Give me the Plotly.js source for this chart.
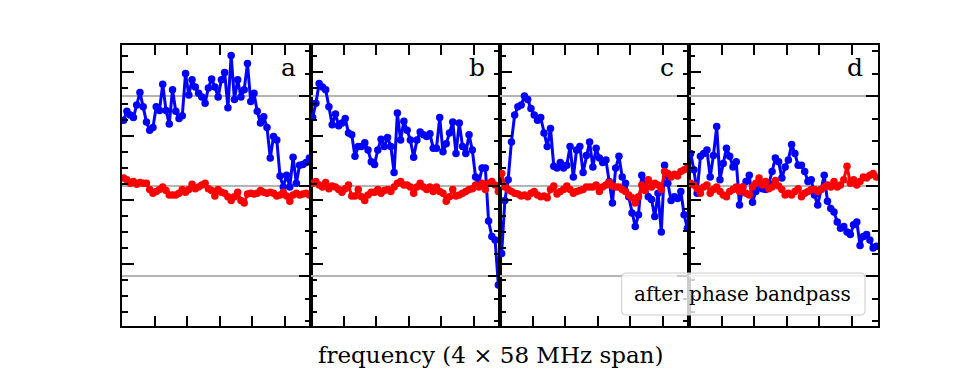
<!DOCTYPE html>
<html>
<head>
<meta charset="utf-8">
<script src="https://cdn.plot.ly/plotly-3.0.1.min.js"></script>
<style>html,body{margin:0;padding:0;background:#fff}</style>
</head>
<body>
<div id="chart" style="width:975px;height:375px"></div>
<script>
// Four 58 MHz sub-bands, one channel per MHz.
const panelLabels = ['a', 'b', 'c', 'd'];
const bandSpanMHz = 58;

// Blue: phase before the bandpass; red: after phase bandpass.
const blueA = [0.73,0.83,0.79,0.76,0.90,1.04,0.88,0.71,0.62,0.65,
  0.88,0.84,1.13,0.84,0.69,1.07,0.83,0.75,0.78,1.25,
  1.01,1.18,1.10,1.03,0.99,0.92,1.09,1.19,1.10,0.99,
  1.18,1.26,0.87,1.45,0.96,1.18,0.99,1.07,1.36,0.94,
  1.03,0.83,0.70,0.77,0.65,0.31,0.55,0.51,0.11,-0.01,
  0.12,-0.01,0.32,0.03,0.23,0.24,0.26,0.31];
const redA = [0.09,0.07,0.03,0.05,0.02,0.04,0.03,0.03,-0.04,-0.08,
  -0.06,-0.04,-0.01,-0.05,-0.10,-0.10,-0.10,-0.08,-0.04,-0.07,
  -0.04,0.02,-0.03,-0.01,0.01,0.03,-0.03,-0.05,-0.11,-0.04,
  -0.07,-0.08,-0.12,-0.16,-0.12,-0.07,-0.16,-0.19,-0.09,-0.08,
  -0.09,-0.08,-0.05,-0.07,-0.08,-0.07,-0.08,-0.11,-0.10,-0.07,
  -0.11,-0.17,-0.10,-0.08,-0.10,-0.09,-0.08,-0.10];

const blueB = [0.76,0.92,1.14,1.10,1.07,0.88,0.68,0.80,0.67,0.70,
  0.75,0.59,0.57,0.33,0.44,0.44,0.48,0.40,0.27,0.24,
  0.40,0.52,0.44,0.54,0.44,0.15,0.81,0.51,0.72,0.62,
  0.51,0.32,0.51,0.60,0.57,0.55,0.58,0.42,0.42,0.76,
  0.38,0.47,0.59,0.71,0.36,0.70,0.44,0.36,0.57,0.40,
  0.10,0.03,0.20,0.20,-0.39,-0.56,-0.60,-1.10];
const redB = [0.03,0.05,0.01,-0.01,0.04,-0.03,0.00,-0.01,-0.04,-0.07,
  -0.03,0.01,-0.11,-0.11,-0.04,-0.12,-0.16,-0.10,-0.07,-0.07,
  -0.04,-0.08,-0.05,-0.04,-0.06,-0.01,0.03,0.05,0.01,0.01,
  -0.01,-0.08,-0.01,0.03,-0.01,-0.04,-0.01,-0.06,-0.01,-0.06,
  -0.08,-0.17,-0.12,-0.04,-0.11,-0.10,-0.08,-0.06,-0.04,-0.03,
  0.01,-0.01,0.03,-0.04,0.03,0.05,0.01,-0.06];

const blueC = [-0.75,-0.16,0.07,0.49,0.79,0.88,0.90,1.00,0.96,0.86,
  0.79,0.73,0.76,0.59,0.44,0.64,0.22,0.20,0.26,0.20,
  0.23,0.44,0.10,0.40,0.44,0.15,0.34,0.49,0.21,0.42,
  0.31,0.26,0.29,0.05,-0.19,0.20,0.33,0.10,0.03,-0.12,
  -0.30,-0.45,-0.32,0.12,0.05,-0.12,-0.15,-0.34,-0.08,-0.51,
  0.23,0.03,-0.16,-0.12,-0.14,-0.06,-0.32,-0.47];
const redC = [0.14,-0.01,-0.04,-0.06,-0.08,-0.09,-0.11,-0.10,-0.12,-0.08,
  -0.06,-0.10,-0.12,-0.11,-0.13,-0.04,0.00,-0.09,-0.06,-0.04,
  0.00,-0.04,-0.08,-0.06,-0.05,-0.04,-0.01,-0.01,-0.01,0.01,
  -0.06,-0.01,0.01,0.04,0.00,-0.01,-0.01,-0.04,-0.06,-0.10,
  -0.13,-0.19,-0.12,0.01,-0.05,0.07,-0.01,0.03,0.01,-0.04,
  0.16,0.14,0.10,0.13,0.11,0.16,0.18,0.20];

const blueD = [0.36,0.18,-0.08,0.33,0.36,0.40,0.10,0.34,0.66,0.07,
  0.25,0.42,0.33,0.21,0.27,-0.21,-0.01,0.05,0.12,-0.18,
  -0.06,0.03,-0.03,-0.04,0.03,0.16,0.31,0.27,0.09,0.21,
  0.29,0.46,0.36,0.23,0.23,0.16,0.05,0.07,-0.10,-0.21,
  -0.04,0.12,-0.17,-0.25,-0.29,-0.40,-0.47,-0.45,-0.51,-0.54,
  -0.43,-0.40,-0.66,-0.56,-0.54,-0.60,-0.69,-0.67];
const redD = [0.03,0.01,-0.03,-0.08,-0.01,0.01,-0.08,-0.04,-0.01,-0.06,
  -0.10,-0.12,-0.06,-0.04,-0.01,-0.06,-0.01,-0.08,-0.10,-0.01,
  0.03,0.09,0.01,0.05,-0.03,-0.01,0.06,0.00,-0.04,-0.10,
  -0.08,-0.10,-0.06,-0.03,-0.12,-0.08,-0.06,-0.04,-0.04,-0.06,
  -0.04,-0.01,0.01,-0.01,0.05,-0.01,0.01,0.07,0.22,0.03,
  0.07,0.01,0.05,0.10,0.09,0.12,0.14,0.10];

const blueSeries = [blueA, blueB, blueC, blueD];
const redSeries = [redA, redB, redC, redD];

const xTitle = 'frequency (4 \u00d7 58 MHz span)';
const legendText = 'after phase bandpass';

const SERIF = 'DejaVu Serif, Liberation Serif, serif';

// channel centre frequencies within one sub-band
function channelFreqs(n) {
  const w = bandSpanMHz / n;
  return Array.from({length: n}, (_, i) => (i + 0.5) * w);
}

const traces = [];
const layout = {
  width: 975, height: 375,
  margin: {l: 122, r: 97, t: 45, b: 49, pad: 0},
  paper_bgcolor: '#fff', plot_bgcolor: '#fff',
  showlegend: false,
  annotations: [], shapes: []
};

const axLine = {showline: true, linecolor: '#000', linewidth: 2, zeroline: false, showticklabels: false};

for (let k = 0; k < 4; k++) {
  const xa = k === 0 ? 'x' : 'x' + (k + 1);
  const ya = k === 0 ? 'y' : 'y' + (k + 1);
  const yLeft = 'y' + (k + 5);
  const xKey = k === 0 ? 'xaxis' : 'xaxis' + (k + 1);
  const yKey = k === 0 ? 'yaxis' : 'yaxis' + (k + 1);
  const yLeftKey = 'yaxis' + (k + 5);

  // frequency axis of the sub-band, ticks on top and bottom
  layout[xKey] = Object.assign({}, axLine, {
    domain: [k / 4, (k + 1) / 4], anchor: ya, range: [0, bandSpanMHz],
    showgrid: false, mirror: 'allticks',
    ticks: 'inside', tick0: 0, dtick: 50, ticklen: 10, tickwidth: 2, tickcolor: '#000',
    minor: {ticks: 'inside', tick0: 0, dtick: 10, ticklen: 5, tickwidth: 2, tickcolor: '#000', showgrid: false}
  });
  // phase axis on the right of each panel, with the grey grid
  layout[yKey] = Object.assign({}, axLine, {
    anchor: xa, side: 'right', range: [-1.5556, 1.5667],
    showgrid: true, gridcolor: '#b4b4b4', gridwidth: 1.5,
    ticks: 'inside', tick0: 0, dtick: 1, ticklen: 12, tickwidth: 2, tickcolor: '#000',
    minor: {ticks: 'inside', tick0: 0, dtick: 0.25, ticklen: 6, tickwidth: 2, tickcolor: '#000', showgrid: false}
  });
  // twin axis on the left edge with its own tick spacing
  layout[yLeftKey] = Object.assign({}, axLine, {
    anchor: xa, overlaying: ya, side: 'left', range: [-1.96875, 2.421875],
    showgrid: false,
    ticks: 'inside', tick0: 0, dtick: 1, ticklen: 12, tickwidth: 2, tickcolor: '#000',
    minor: {ticks: 'inside', tick0: 0, dtick: 0.25, ticklen: 6, tickwidth: 2, tickcolor: '#000', showgrid: false}
  });

  traces.push({x: [], y: [], xaxis: xa, yaxis: yLeft, type: 'scatter', mode: 'markers', hoverinfo: 'skip'});

  const b = blueSeries[k], r = redSeries[k];
  traces.push({
    x: channelFreqs(b.length), y: b, xaxis: xa, yaxis: ya,
    type: 'scatter', mode: 'lines+markers',
    line: {color: '#0000ff', width: 3}, marker: {color: '#0000ff', size: 7.5}
  });
  traces.push({
    x: channelFreqs(r.length), y: r, xaxis: xa, yaxis: ya,
    type: 'scatter', mode: 'lines+markers',
    line: {color: '#ff0000', width: 3}, marker: {color: '#ff0000', size: 7.5}
  });

  // panel letter in the upper right corner
  layout.annotations.push({
    text: panelLabels[k], xref: 'paper', yref: 'paper',
    x: (k + 1) / 4 - 13 / 756, y: 0.9217, xanchor: 'right', yanchor: 'middle',
    showarrow: false, font: {family: SERIF, size: 25, color: '#000'}
  });
}

// shared frequency title below the panels
layout.annotations.push({
  text: xTitle, xref: 'paper', yref: 'paper', x: 0.4868, y: -0.1032,
  xanchor: 'center', yanchor: 'middle', showarrow: false,
  font: {family: SERIF, size: 23, color: '#000'}
});

// legend-style label box with rounded corners
const bx0 = 0.661, bx1 = 0.9828, by0 = 0.0391, by1 = 0.1886, rx = 4 / 756, ry = 4 / 281;
layout.shapes.push({
  type: 'path', xref: 'paper', yref: 'paper', layer: 'above',
  path: `M ${bx0 + rx},${by0} L ${bx1 - rx},${by0} Q ${bx1},${by0} ${bx1},${by0 + ry} ` +
        `L ${bx1},${by1 - ry} Q ${bx1},${by1} ${bx1 - rx},${by1} L ${bx0 + rx},${by1} ` +
        `Q ${bx0},${by1} ${bx0},${by1 - ry} L ${bx0},${by0 + ry} Q ${bx0},${by0} ${bx0 + rx},${by0} Z`,
  fillcolor: 'rgba(255,255,255,0.8)', line: {color: '#cccccc', width: 1}
});
layout.annotations.push({
  text: legendText, xref: 'paper', yref: 'paper', x: 0.8207, y: 0.1139,
  xanchor: 'center', yanchor: 'middle', showarrow: false,
  font: {family: SERIF, size: 20, color: '#000'}
});

Plotly.newPlot('chart', traces, layout, {staticPlot: true, displayModeBar: false});
</script>
</body>
</html>
